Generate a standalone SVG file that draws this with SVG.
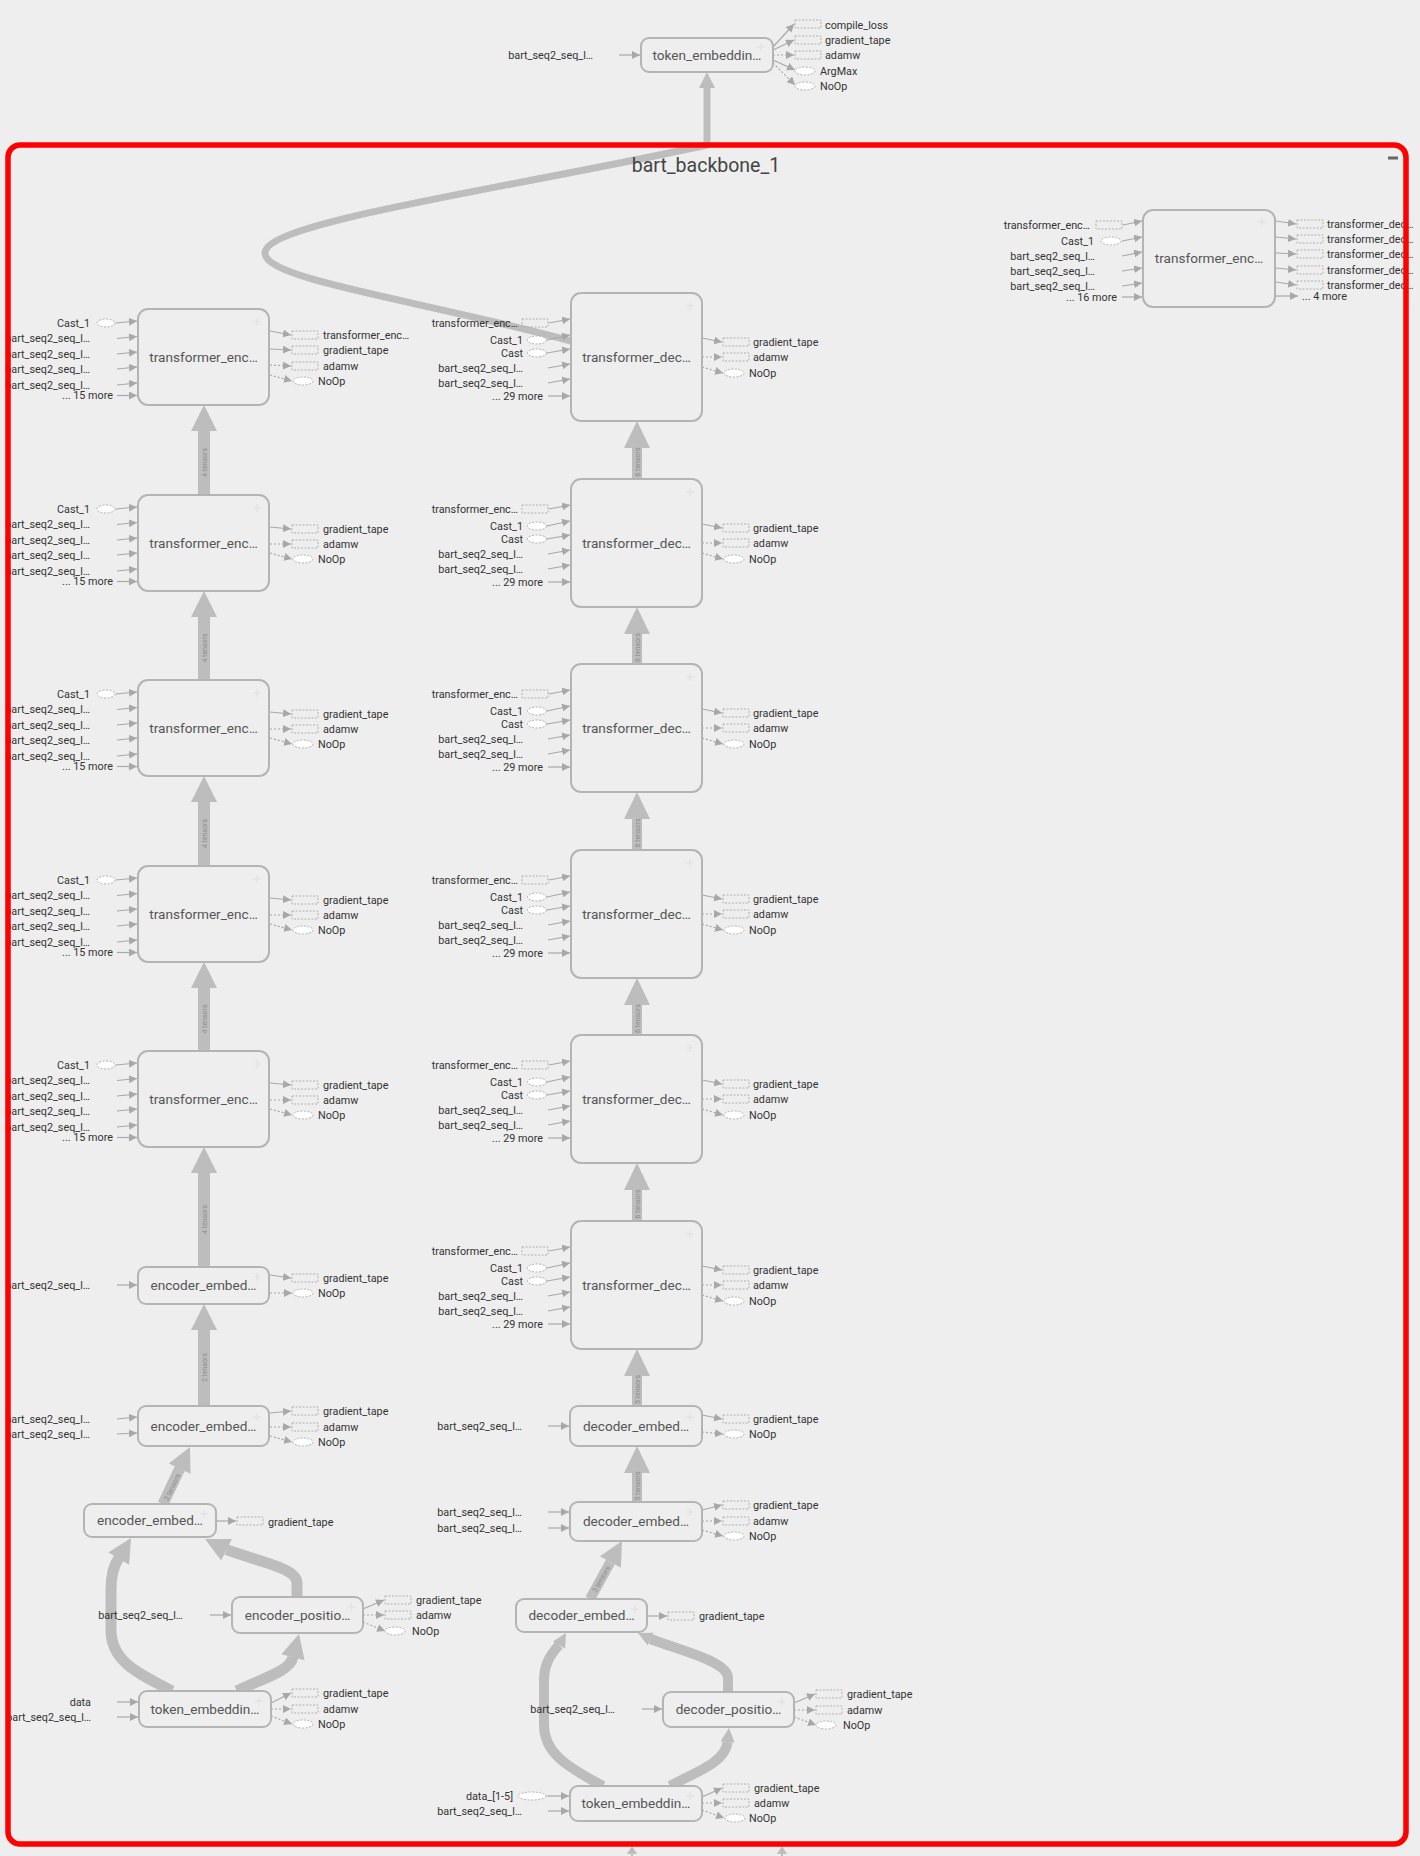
<svg xmlns="http://www.w3.org/2000/svg" width="1420" height="1856" viewBox="0 0 1420 1856">
<defs>
<style>
.t{font-family:Roboto,"Liberation Sans",sans-serif;font-size:10.8px;fill:#333}
.te{text-anchor:end}
.bx{fill:#eeeeee;stroke:#b4b4b4;stroke-width:2}
.nl{font-family:Roboto,"Liberation Sans",sans-serif;font-size:13.6px;fill:#555;text-anchor:middle}
.s{fill:none;stroke:#b0b0b0;stroke-width:1;stroke-dasharray:2 1.5}
.o{fill:#fff;stroke:#b0b0b0;stroke-width:1;stroke-dasharray:2 1.5}
.e{fill:none;stroke:#a8a8a8;stroke-width:1.2;marker-end:url(#a)}
.c{fill:none;stroke:#a8a8a8;stroke-width:1.2;stroke-dasharray:2 2;marker-end:url(#a)}
.k{fill:#bdbdbd}
.kp{fill:none;stroke:#bdbdbd;stroke-linejoin:round}
.tl{font-family:Roboto,"Liberation Sans",sans-serif;font-size:7px;fill:#8c8c8c;text-anchor:middle}
.pl{stroke:#e2e2e2;stroke-width:1.2}
</style>
<marker id="a" viewBox="0 0 10 10" refX="10" refY="5" markerWidth="8" markerHeight="8" markerUnits="userSpaceOnUse" orient="auto"><path d="M0,0 L10,5 L0,10 z" fill="#a8a8a8"/></marker>
<g id="plus"><line class="pl" x1="-4" y1="0" x2="4" y2="0"/><line class="pl" x1="0" y1="-4" x2="0" y2="4"/></g>
</defs>
<rect width="1420" height="1856" fill="#eeeeee"/>

<g id="connectors">
<path class="kp" stroke-width="7" d="M707,86 L707,145 C500,190 265,222 265,253 C265,280 420,300 571,341"/>
<polygon class="k" points="707,72 699,88 715,88"/>
<polygon class="k" points="204,405 191,431 217,431"/><rect class="k" x="198" y="430" width="12" height="65"/>
<text class="tl" transform="rotate(-90 204 462.5)" x="204" y="465">4 tensors</text>
<polygon class="k" points="204,591 191,617 217,617"/><rect class="k" x="198" y="616" width="12" height="64"/>
<text class="tl" transform="rotate(-90 204 648)" x="204" y="650.5">4 tensors</text>
<polygon class="k" points="204,776 191,802 217,802"/><rect class="k" x="198" y="801" width="12" height="65"/>
<text class="tl" transform="rotate(-90 204 833.5)" x="204" y="836">4 tensors</text>
<polygon class="k" points="204,962 191,988 217,988"/><rect class="k" x="198" y="987" width="12" height="64"/>
<text class="tl" transform="rotate(-90 204 1019)" x="204" y="1021.5">4 tensors</text>
<polygon class="k" points="204,1147 191,1173 217,1173"/><rect class="k" x="198" y="1172" width="12" height="95"/>
<text class="tl" transform="rotate(-90 204 1219.5)" x="204" y="1222">4 tensors</text>
<polygon class="k" points="204,1304 191,1330 217,1330"/><rect class="k" x="198" y="1329" width="12" height="77"/>
<text class="tl" transform="rotate(-90 204 1367.5)" x="204" y="1370">2 tensors</text>
<line class="kp" stroke-width="11" x1="163" y1="1504" x2="179.7" y2="1468.7"/>
<polygon class="k" points="190,1447 190.5,1473.8 168.9,1463.6"/>
<text class="tl" transform="rotate(-64.7 172 1487)" x="172" y="1489.5">3 tensors</text>
<path class="kp" stroke-width="11" d="M172,1691 C135,1672 111,1660 111,1630 L111,1590 C111,1575 113,1566 119,1558"/>
<polygon class="k" points="131,1538 129.2,1564.8 108.4,1552.6"/>
<path class="kp" stroke-width="11" d="M237,1691 C260,1679 290,1672 293,1657"/>
<polygon class="k" points="299,1634 304.6,1660.3 281.4,1654.3"/>
<path class="kp" stroke-width="11" d="M297,1597 L297,1583 C297,1568 260,1562 226.5,1549.7"/>
<polygon class="k" points="205,1539 231.9,1539 221.1,1560.4"/>
<polygon class="k" points="637,421 624,448 650,448"/><rect class="k" x="632" y="447" width="10" height="32"/>
<text class="tl" transform="rotate(-90 637 462)" x="637" y="464.5">6 tensors</text>
<polygon class="k" points="637,607 624,634 650,634"/><rect class="k" x="632" y="633" width="10" height="31"/>
<text class="tl" transform="rotate(-90 637 647.5)" x="637" y="650">6 tensors</text>
<polygon class="k" points="637,792 624,819 650,819"/><rect class="k" x="632" y="818" width="10" height="32"/>
<text class="tl" transform="rotate(-90 637 833)" x="637" y="835.5">6 tensors</text>
<polygon class="k" points="637,978 624,1005 650,1005"/><rect class="k" x="632" y="1004" width="10" height="31"/>
<text class="tl" transform="rotate(-90 637 1018.5)" x="637" y="1021">6 tensors</text>
<polygon class="k" points="637,1163 624,1190 650,1190"/><rect class="k" x="632" y="1189" width="10" height="32"/>
<text class="tl" transform="rotate(-90 637 1204)" x="637" y="1206.5">6 tensors</text>
<polygon class="k" points="637,1349 624,1376 650,1376"/><rect class="k" x="632" y="1375" width="10" height="31"/>
<text class="tl" transform="rotate(-90 637 1389.5)" x="637" y="1392">5 tensors</text>
<polygon class="k" points="637,1446 624,1473 650,1473"/><rect class="k" x="632" y="1472" width="10" height="30"/>
<text class="tl" transform="rotate(-90 637 1486)" x="637" y="1488.5">5 tensors</text>
<line class="kp" stroke-width="10" x1="590" y1="1599" x2="610.4" y2="1562"/>
<polygon class="k" points="622,1541 620.9,1567.8 599.9,1556.2"/>
<text class="tl" transform="rotate(-61.1 601 1579)" x="601" y="1581.5">3 tensors</text>
<path class="kp" stroke-width="10" d="M603,1786 C565,1766 544,1752 544,1725 L544,1680 C544,1665 550,1655 559,1645"/>
<polygon class="k" points="566,1633 565.1,1648.6 552.9,1641.6"/>
<path class="kp" stroke-width="10" d="M670,1786 C700,1770 725,1762 727.6,1742"/>
<polygon class="k" points="729,1728 734.6,1742.7 720.6,1741.3"/>
<path class="kp" stroke-width="10" d="M728,1692 L728,1678 C728,1662 685,1652 650.6,1639"/>
<polygon class="k" points="638,1633 653.6,1632.7 647.6,1645.3"/>
<line x1="632" y1="1856" x2="632" y2="1851" stroke="#bdbdbd" stroke-width="2"/><polygon class="k" points="632,1846 627,1854 637,1854"/>
<line x1="782" y1="1856" x2="782" y2="1851" stroke="#bdbdbd" stroke-width="2"/><polygon class="k" points="782,1846 777,1854 787,1854"/>

<line class="e" x1="619" y1="55" x2="640" y2="55"/>
<line class="e" x1="773" y1="47" x2="794" y2="24"/>
<line class="e" x1="773" y1="50" x2="794" y2="40"/>
<line class="c" x1="773" y1="55" x2="794" y2="55"/>
<line class="e" x1="773" y1="60" x2="795" y2="70"/>
<line class="c" x1="773" y1="63" x2="795" y2="85"/>
<line class="e" x1="1123" y1="225" x2="1142" y2="221"/>
<line class="e" x1="1122" y1="241" x2="1142" y2="237"/>
<line class="e" x1="1122" y1="256" x2="1142" y2="252"/>
<line class="e" x1="1122" y1="271" x2="1142" y2="268"/>
<line class="e" x1="1122" y1="286" x2="1142" y2="283"/>
<line class="e" x1="1122" y1="297" x2="1142" y2="297"/>
<line class="e" x1="1276" y1="221" x2="1296" y2="224"/>
<line class="e" x1="1276" y1="237" x2="1296" y2="239"/>
<line class="e" x1="1276" y1="253" x2="1296" y2="254"/>
<line class="e" x1="1276" y1="268" x2="1296" y2="270"/>
<line class="e" x1="1276" y1="282" x2="1296" y2="285"/>
<line class="e" x1="1276" y1="296" x2="1298" y2="296"/>

<line class="e" x1="115.5" y1="323" x2="137" y2="321"/>
<line class="e" x1="117" y1="338.5" x2="137" y2="336.5"/>
<line class="e" x1="117" y1="354" x2="137" y2="352"/>
<line class="e" x1="117" y1="369" x2="137" y2="367"/>
<line class="e" x1="117" y1="385" x2="137" y2="383"/>
<line class="e" x1="117" y1="395.5" x2="137" y2="395.5"/>
<line class="e" x1="270" y1="331" x2="291" y2="335"/>
<line class="e" x1="270" y1="349" x2="291" y2="350"/>
<line class="c" x1="270" y1="365" x2="291" y2="366"/>
<line class="c" x1="270" y1="375" x2="292" y2="381"/>
<line class="e" x1="115.5" y1="509" x2="137" y2="507"/>
<line class="e" x1="117" y1="524.5" x2="137" y2="522.5"/>
<line class="e" x1="117" y1="540" x2="137" y2="538"/>
<line class="e" x1="117" y1="555" x2="137" y2="553"/>
<line class="e" x1="117" y1="571" x2="137" y2="569"/>
<line class="e" x1="117" y1="581.5" x2="137" y2="581.5"/>
<line class="e" x1="270" y1="527" x2="291" y2="529"/>
<line class="c" x1="270" y1="544" x2="291" y2="544"/>
<line class="c" x1="270" y1="553" x2="292" y2="559"/>
<line class="e" x1="115.5" y1="694" x2="137" y2="692"/>
<line class="e" x1="117" y1="709.5" x2="137" y2="707.5"/>
<line class="e" x1="117" y1="725" x2="137" y2="723"/>
<line class="e" x1="117" y1="740" x2="137" y2="738"/>
<line class="e" x1="117" y1="756" x2="137" y2="754"/>
<line class="e" x1="117" y1="766.5" x2="137" y2="766.5"/>
<line class="e" x1="270" y1="712" x2="291" y2="714"/>
<line class="c" x1="270" y1="729" x2="291" y2="729"/>
<line class="c" x1="270" y1="738" x2="292" y2="744"/>
<line class="e" x1="115.5" y1="880" x2="137" y2="878"/>
<line class="e" x1="117" y1="895.5" x2="137" y2="893.5"/>
<line class="e" x1="117" y1="911" x2="137" y2="909"/>
<line class="e" x1="117" y1="926" x2="137" y2="924"/>
<line class="e" x1="117" y1="942" x2="137" y2="940"/>
<line class="e" x1="117" y1="952.5" x2="137" y2="952.5"/>
<line class="e" x1="270" y1="898" x2="291" y2="900"/>
<line class="c" x1="270" y1="915" x2="291" y2="915"/>
<line class="c" x1="270" y1="924" x2="292" y2="930"/>
<line class="e" x1="115.5" y1="1065" x2="137" y2="1063"/>
<line class="e" x1="117" y1="1080.5" x2="137" y2="1078.5"/>
<line class="e" x1="117" y1="1096" x2="137" y2="1094"/>
<line class="e" x1="117" y1="1111" x2="137" y2="1109"/>
<line class="e" x1="117" y1="1127" x2="137" y2="1125"/>
<line class="e" x1="117" y1="1137.5" x2="137" y2="1137.5"/>
<line class="e" x1="270" y1="1083" x2="291" y2="1085"/>
<line class="c" x1="270" y1="1100" x2="291" y2="1100"/>
<line class="c" x1="270" y1="1109" x2="292" y2="1115"/>
<line class="e" x1="117" y1="1285" x2="137" y2="1285"/>
<line class="e" x1="270" y1="1275" x2="291" y2="1278"/>
<line class="c" x1="270" y1="1293" x2="292" y2="1293"/>
<line class="e" x1="117" y1="1419" x2="137" y2="1417"/>
<line class="e" x1="117" y1="1434" x2="137" y2="1433"/>
<line class="e" x1="270" y1="1413" x2="291" y2="1411"/>
<line class="c" x1="270" y1="1427" x2="291" y2="1427"/>
<line class="c" x1="270" y1="1436" x2="292" y2="1442"/>
<line class="e" x1="216" y1="1521" x2="236" y2="1521"/>
<line class="e" x1="210" y1="1615" x2="231" y2="1615"/>
<line class="e" x1="363" y1="1609" x2="384" y2="1600"/>
<line class="c" x1="363" y1="1615" x2="384" y2="1615"/>
<line class="c" x1="363" y1="1622" x2="385" y2="1631"/>
<line class="e" x1="117" y1="1702" x2="138" y2="1702"/>
<line class="e" x1="117" y1="1717" x2="138" y2="1717"/>
<line class="e" x1="271" y1="1703" x2="291" y2="1693"/>
<line class="c" x1="271" y1="1709" x2="291" y2="1709"/>
<line class="c" x1="271" y1="1716" x2="292" y2="1724"/>

<line class="e" x1="549" y1="323" x2="570" y2="319"/>
<line class="e" x1="547" y1="340" x2="570" y2="335"/>
<line class="e" x1="547" y1="353" x2="570" y2="349"/>
<line class="e" x1="548" y1="368" x2="570" y2="364"/>
<line class="e" x1="548" y1="383" x2="570" y2="379"/>
<line class="e" x1="548" y1="396" x2="570" y2="396"/>
<line class="e" x1="702" y1="338" x2="722" y2="342"/>
<line class="c" x1="702" y1="357" x2="722" y2="357"/>
<line class="c" x1="702" y1="367" x2="723" y2="373"/>
<line class="e" x1="549" y1="509" x2="570" y2="505"/>
<line class="e" x1="547" y1="526" x2="570" y2="521"/>
<line class="e" x1="547" y1="539" x2="570" y2="535"/>
<line class="e" x1="548" y1="554" x2="570" y2="550"/>
<line class="e" x1="548" y1="569" x2="570" y2="565"/>
<line class="e" x1="548" y1="582" x2="570" y2="582"/>
<line class="e" x1="702" y1="524" x2="722" y2="528"/>
<line class="c" x1="702" y1="543" x2="722" y2="543"/>
<line class="c" x1="702" y1="553" x2="723" y2="559"/>
<line class="e" x1="549" y1="694" x2="570" y2="690"/>
<line class="e" x1="547" y1="711" x2="570" y2="706"/>
<line class="e" x1="547" y1="724" x2="570" y2="720"/>
<line class="e" x1="548" y1="739" x2="570" y2="735"/>
<line class="e" x1="548" y1="754" x2="570" y2="750"/>
<line class="e" x1="548" y1="767" x2="570" y2="767"/>
<line class="e" x1="702" y1="709" x2="722" y2="713"/>
<line class="c" x1="702" y1="728" x2="722" y2="728"/>
<line class="c" x1="702" y1="738" x2="723" y2="744"/>
<line class="e" x1="549" y1="880" x2="570" y2="876"/>
<line class="e" x1="547" y1="897" x2="570" y2="892"/>
<line class="e" x1="547" y1="910" x2="570" y2="906"/>
<line class="e" x1="548" y1="925" x2="570" y2="921"/>
<line class="e" x1="548" y1="940" x2="570" y2="936"/>
<line class="e" x1="548" y1="953" x2="570" y2="953"/>
<line class="e" x1="702" y1="895" x2="722" y2="899"/>
<line class="c" x1="702" y1="914" x2="722" y2="914"/>
<line class="c" x1="702" y1="924" x2="723" y2="930"/>
<line class="e" x1="549" y1="1065" x2="570" y2="1061"/>
<line class="e" x1="547" y1="1082" x2="570" y2="1077"/>
<line class="e" x1="547" y1="1095" x2="570" y2="1091"/>
<line class="e" x1="548" y1="1110" x2="570" y2="1106"/>
<line class="e" x1="548" y1="1125" x2="570" y2="1121"/>
<line class="e" x1="548" y1="1138" x2="570" y2="1138"/>
<line class="e" x1="702" y1="1080" x2="722" y2="1084"/>
<line class="c" x1="702" y1="1099" x2="722" y2="1099"/>
<line class="c" x1="702" y1="1109" x2="723" y2="1115"/>
<line class="e" x1="549" y1="1251" x2="570" y2="1247"/>
<line class="e" x1="547" y1="1268" x2="570" y2="1263"/>
<line class="e" x1="547" y1="1281" x2="570" y2="1277"/>
<line class="e" x1="548" y1="1296" x2="570" y2="1292"/>
<line class="e" x1="548" y1="1311" x2="570" y2="1307"/>
<line class="e" x1="548" y1="1324" x2="570" y2="1324"/>
<line class="e" x1="702" y1="1266" x2="722" y2="1270"/>
<line class="c" x1="702" y1="1285" x2="722" y2="1285"/>
<line class="c" x1="702" y1="1295" x2="723" y2="1301"/>
<line class="e" x1="548" y1="1426" x2="569" y2="1426"/>
<line class="e" x1="702" y1="1415" x2="722" y2="1419"/>
<line class="c" x1="702" y1="1432" x2="723" y2="1434"/>
<line class="e" x1="548" y1="1512" x2="569" y2="1512"/>
<line class="e" x1="548" y1="1528" x2="569" y2="1528"/>
<line class="e" x1="702" y1="1510" x2="722" y2="1505"/>
<line class="c" x1="702" y1="1521" x2="722" y2="1521"/>
<line class="c" x1="702" y1="1530" x2="723" y2="1536"/>
<line class="e" x1="647" y1="1616" x2="667" y2="1616"/>
<line class="e" x1="642" y1="1709" x2="662" y2="1709"/>
<line class="e" x1="794" y1="1703" x2="815" y2="1694"/>
<line class="c" x1="794" y1="1710" x2="815" y2="1710"/>
<line class="c" x1="794" y1="1717" x2="816" y2="1725"/>
<line class="e" x1="547" y1="1796" x2="569" y2="1796"/>
<line class="e" x1="548" y1="1811" x2="569" y2="1811"/>
<line class="e" x1="702" y1="1797" x2="722" y2="1788"/>
<line class="c" x1="702" y1="1803" x2="722" y2="1803"/>
<line class="c" x1="702" y1="1810" x2="724" y2="1818"/>
</g>

<g id="token_embeddin_top">
<rect class="bx" x="641" y="38" width="132" height="34" rx="8"/>
<text class="nl" x="707" y="59.5">token_embeddin…</text>
<use href="#plus" x="761" y="47"/>
<text class="t te" x="593" y="58.5">bart_seq2_seq_l…</text>
<rect class="s" x="795" y="20" width="26" height="8"/><text class="t" x="825" y="28.5">compile_loss</text>
<rect class="s" x="795" y="36" width="26" height="8"/><text class="t" x="825" y="43.5">gradient_tape</text>
<rect class="s" x="795" y="51" width="26" height="8"/><text class="t" x="825" y="58.5">adamw</text>
<ellipse class="o" cx="805" cy="71" rx="10" ry="4"/><text class="t" x="820" y="74.5">ArgMax</text>
<ellipse class="o" cx="805" cy="86" rx="10" ry="4"/><text class="t" x="820" y="89.5">NoOp</text>
</g>

<g id="transformer_enc_right">
<rect class="bx" x="1143" y="210" width="132" height="97" rx="10"/>
<text class="nl" x="1209" y="263">transformer_enc…</text>
<use href="#plus" x="1262" y="222"/>
<text class="t te" x="1090" y="228.5">transformer_enc…</text><rect class="s" x="1096" y="221" width="26" height="8"/>
<text class="t te" x="1094" y="244.5">Cast_1</text><ellipse class="o" cx="1111" cy="241" rx="10" ry="4"/>
<text class="t te" x="1095" y="259.5">bart_seq2_seq_l…</text>
<text class="t te" x="1095" y="274.5">bart_seq2_seq_l…</text>
<text class="t te" x="1095" y="289.5">bart_seq2_seq_l…</text>
<text class="t te" x="1117" y="300.5">... 16 more</text>
<rect class="s" x="1297" y="220" width="26" height="8"/><text class="t" x="1327" y="227.5">transformer_dec…</text>
<rect class="s" x="1297" y="235" width="26" height="8"/><text class="t" x="1327" y="242.5">transformer_dec…</text>
<rect class="s" x="1297" y="250" width="26" height="8"/><text class="t" x="1327" y="257.5">transformer_dec…</text>
<rect class="s" x="1297" y="266" width="26" height="8"/><text class="t" x="1327" y="273.5">transformer_dec…</text>
<rect class="s" x="1297" y="281" width="26" height="8"/><text class="t" x="1327" y="288.5">transformer_dec…</text>
<text class="t" x="1302" y="299.5">... 4 more</text>
</g>

<g id="transformer_enc_0">
<rect class="bx" x="138" y="309" width="131" height="96" rx="10"/>
<text class="nl" x="203.5" y="361.5">transformer_enc…</text><use href="#plus" x="257" y="322"/>
<text class="t te" x="90" y="326.5">Cast_1</text><ellipse class="o" cx="106" cy="323" rx="9" ry="4"/>
<text class="t te" x="90" y="342">bart_seq2_seq_l…</text>
<text class="t te" x="90" y="357.5">bart_seq2_seq_l…</text>
<text class="t te" x="90" y="372.5">bart_seq2_seq_l…</text>
<text class="t te" x="90" y="388.5">bart_seq2_seq_l…</text>
<text class="t te" x="113" y="399">... 15 more</text>
<rect class="s" x="292" y="331" width="26" height="8"/><text class="t" x="323" y="338.5">transformer_enc…</text>
<rect class="s" x="292" y="346" width="26" height="8"/><text class="t" x="323" y="353.5">gradient_tape</text>
<rect class="s" x="292" y="362" width="26" height="8"/><text class="t" x="323" y="369.5">adamw</text>
<ellipse class="o" cx="303" cy="381" rx="10" ry="4"/><text class="t" x="318" y="384.5">NoOp</text>
</g>
<g id="transformer_enc_1">
<rect class="bx" x="138" y="495" width="131" height="96" rx="10"/>
<text class="nl" x="203.5" y="547.5">transformer_enc…</text><use href="#plus" x="257" y="508"/>
<text class="t te" x="90" y="512.5">Cast_1</text><ellipse class="o" cx="106" cy="509" rx="9" ry="4"/>
<text class="t te" x="90" y="528">bart_seq2_seq_l…</text>
<text class="t te" x="90" y="543.5">bart_seq2_seq_l…</text>
<text class="t te" x="90" y="558.5">bart_seq2_seq_l…</text>
<text class="t te" x="90" y="574.5">bart_seq2_seq_l…</text>
<text class="t te" x="113" y="585">... 15 more</text>
<rect class="s" x="292" y="525" width="26" height="8"/><text class="t" x="323" y="532.5">gradient_tape</text>
<rect class="s" x="292" y="540" width="26" height="8"/><text class="t" x="323" y="547.5">adamw</text>
<ellipse class="o" cx="303" cy="559" rx="10" ry="4"/><text class="t" x="318" y="562.5">NoOp</text>
</g>
<g id="transformer_enc_2">
<rect class="bx" x="138" y="680" width="131" height="96" rx="10"/>
<text class="nl" x="203.5" y="732.5">transformer_enc…</text><use href="#plus" x="257" y="693"/>
<text class="t te" x="90" y="697.5">Cast_1</text><ellipse class="o" cx="106" cy="694" rx="9" ry="4"/>
<text class="t te" x="90" y="713">bart_seq2_seq_l…</text>
<text class="t te" x="90" y="728.5">bart_seq2_seq_l…</text>
<text class="t te" x="90" y="743.5">bart_seq2_seq_l…</text>
<text class="t te" x="90" y="759.5">bart_seq2_seq_l…</text>
<text class="t te" x="113" y="770">... 15 more</text>
<rect class="s" x="292" y="710" width="26" height="8"/><text class="t" x="323" y="717.5">gradient_tape</text>
<rect class="s" x="292" y="725" width="26" height="8"/><text class="t" x="323" y="732.5">adamw</text>
<ellipse class="o" cx="303" cy="744" rx="10" ry="4"/><text class="t" x="318" y="747.5">NoOp</text>
</g>
<g id="transformer_enc_3">
<rect class="bx" x="138" y="866" width="131" height="96" rx="10"/>
<text class="nl" x="203.5" y="918.5">transformer_enc…</text><use href="#plus" x="257" y="879"/>
<text class="t te" x="90" y="883.5">Cast_1</text><ellipse class="o" cx="106" cy="880" rx="9" ry="4"/>
<text class="t te" x="90" y="899">bart_seq2_seq_l…</text>
<text class="t te" x="90" y="914.5">bart_seq2_seq_l…</text>
<text class="t te" x="90" y="929.5">bart_seq2_seq_l…</text>
<text class="t te" x="90" y="945.5">bart_seq2_seq_l…</text>
<text class="t te" x="113" y="956">... 15 more</text>
<rect class="s" x="292" y="896" width="26" height="8"/><text class="t" x="323" y="903.5">gradient_tape</text>
<rect class="s" x="292" y="911" width="26" height="8"/><text class="t" x="323" y="918.5">adamw</text>
<ellipse class="o" cx="303" cy="930" rx="10" ry="4"/><text class="t" x="318" y="933.5">NoOp</text>
</g>
<g id="transformer_enc_4">
<rect class="bx" x="138" y="1051" width="131" height="96" rx="10"/>
<text class="nl" x="203.5" y="1103.5">transformer_enc…</text><use href="#plus" x="257" y="1064"/>
<text class="t te" x="90" y="1068.5">Cast_1</text><ellipse class="o" cx="106" cy="1065" rx="9" ry="4"/>
<text class="t te" x="90" y="1084">bart_seq2_seq_l…</text>
<text class="t te" x="90" y="1099.5">bart_seq2_seq_l…</text>
<text class="t te" x="90" y="1114.5">bart_seq2_seq_l…</text>
<text class="t te" x="90" y="1130.5">bart_seq2_seq_l…</text>
<text class="t te" x="113" y="1141">... 15 more</text>
<rect class="s" x="292" y="1081" width="26" height="8"/><text class="t" x="323" y="1088.5">gradient_tape</text>
<rect class="s" x="292" y="1096" width="26" height="8"/><text class="t" x="323" y="1103.5">adamw</text>
<ellipse class="o" cx="303" cy="1115" rx="10" ry="4"/><text class="t" x="318" y="1118.5">NoOp</text>
</g>
<g id="encoder_embed_a">
<rect class="bx" x="138" y="1267" width="131" height="37" rx="8"/>
<text class="nl" x="203.5" y="1290">encoder_embed…</text><use href="#plus" x="257" y="1277"/>
<text class="t te" x="90" y="1288.5">bart_seq2_seq_l…</text>
<rect class="s" x="292" y="1274" width="26" height="8"/><text class="t" x="323" y="1281.5">gradient_tape</text>
<ellipse class="o" cx="303" cy="1293" rx="10" ry="4"/><text class="t" x="318" y="1296.5">NoOp</text>
</g>
<g id="encoder_embed_b">
<rect class="bx" x="138" y="1406" width="131" height="40" rx="8"/>
<text class="nl" x="203.5" y="1430.5">encoder_embed…</text><use href="#plus" x="257" y="1417"/>
<text class="t te" x="90" y="1422.5">bart_seq2_seq_l…</text>
<text class="t te" x="90" y="1437.5">bart_seq2_seq_l…</text>
<rect class="s" x="292" y="1407" width="26" height="8"/><text class="t" x="323" y="1414.5">gradient_tape</text>
<rect class="s" x="292" y="1423" width="26" height="8"/><text class="t" x="323" y="1430.5">adamw</text>
<ellipse class="o" cx="303" cy="1442" rx="10" ry="4"/><text class="t" x="318" y="1445.5">NoOp</text>
</g>
<g id="encoder_embed_c">
<rect class="bx" x="84" y="1504" width="132" height="33" rx="8"/>
<text class="nl" x="150" y="1525">encoder_embed…</text><use href="#plus" x="204" y="1514"/>
<rect class="s" x="237" y="1517" width="26" height="8"/><text class="t" x="268" y="1525.5">gradient_tape</text>
</g>
<g id="encoder_position">
<rect class="bx" x="232" y="1597" width="131" height="36" rx="8"/>
<text class="nl" x="297.5" y="1619.5">encoder_positio…</text><use href="#plus" x="351" y="1607"/>
<text class="t te" x="183" y="1618.5">bart_seq2_seq_l…</text>
<rect class="s" x="385" y="1596" width="26" height="8"/><text class="t" x="416" y="1603.5">gradient_tape</text>
<rect class="s" x="385" y="1611" width="26" height="8"/><text class="t" x="416" y="1618.5">adamw</text>
<ellipse class="o" cx="395" cy="1631" rx="10" ry="4"/><text class="t" x="412" y="1634.5">NoOp</text>
</g>
<g id="token_embeddin_enc">
<rect class="bx" x="139" y="1691" width="132" height="36" rx="8"/>
<text class="nl" x="205" y="1713.5">token_embeddin…</text><use href="#plus" x="259" y="1701"/>
<text class="t te" x="91" y="1705.5">data</text>
<text class="t te" x="91" y="1720.5">bart_seq2_seq_l…</text>
<rect class="s" x="292" y="1689" width="26" height="8"/><text class="t" x="323" y="1696.5">gradient_tape</text>
<rect class="s" x="292" y="1705" width="26" height="8"/><text class="t" x="323" y="1712.5">adamw</text>
<ellipse class="o" cx="303" cy="1724" rx="10" ry="4"/><text class="t" x="318" y="1727.5">NoOp</text>
</g>

<g id="transformer_dec_0">
<rect class="bx" x="571" y="293" width="131" height="128" rx="10"/>
<text class="nl" x="636.5" y="361.5">transformer_dec…</text><use href="#plus" x="690" y="306"/>
<text class="t te" x="518" y="326.5">transformer_enc…</text><rect class="s" x="522" y="319" width="26" height="8"/>
<text class="t te" x="523" y="343.5">Cast_1</text><ellipse class="o" cx="537" cy="340" rx="9.5" ry="4"/>
<text class="t te" x="523" y="356.5">Cast</text><ellipse class="o" cx="537" cy="353" rx="9.5" ry="4"/>
<text class="t te" x="523" y="371.5">bart_seq2_seq_l…</text>
<text class="t te" x="523" y="386.5">bart_seq2_seq_l…</text>
<text class="t te" x="543" y="399.5">... 29 more</text>
<rect class="s" x="723" y="338" width="26" height="8"/><text class="t" x="753" y="345.5">gradient_tape</text>
<rect class="s" x="723" y="353" width="26" height="8"/><text class="t" x="753" y="360.5">adamw</text>
<ellipse class="o" cx="734" cy="373" rx="10" ry="4"/><text class="t" x="749" y="376.5">NoOp</text>
</g>
<g id="transformer_dec_1">
<rect class="bx" x="571" y="479" width="131" height="128" rx="10"/>
<text class="nl" x="636.5" y="547.5">transformer_dec…</text><use href="#plus" x="690" y="492"/>
<text class="t te" x="518" y="512.5">transformer_enc…</text><rect class="s" x="522" y="505" width="26" height="8"/>
<text class="t te" x="523" y="529.5">Cast_1</text><ellipse class="o" cx="537" cy="526" rx="9.5" ry="4"/>
<text class="t te" x="523" y="542.5">Cast</text><ellipse class="o" cx="537" cy="539" rx="9.5" ry="4"/>
<text class="t te" x="523" y="557.5">bart_seq2_seq_l…</text>
<text class="t te" x="523" y="572.5">bart_seq2_seq_l…</text>
<text class="t te" x="543" y="585.5">... 29 more</text>
<rect class="s" x="723" y="524" width="26" height="8"/><text class="t" x="753" y="531.5">gradient_tape</text>
<rect class="s" x="723" y="539" width="26" height="8"/><text class="t" x="753" y="546.5">adamw</text>
<ellipse class="o" cx="734" cy="559" rx="10" ry="4"/><text class="t" x="749" y="562.5">NoOp</text>
</g>
<g id="transformer_dec_2">
<rect class="bx" x="571" y="664" width="131" height="128" rx="10"/>
<text class="nl" x="636.5" y="732.5">transformer_dec…</text><use href="#plus" x="690" y="677"/>
<text class="t te" x="518" y="697.5">transformer_enc…</text><rect class="s" x="522" y="690" width="26" height="8"/>
<text class="t te" x="523" y="714.5">Cast_1</text><ellipse class="o" cx="537" cy="711" rx="9.5" ry="4"/>
<text class="t te" x="523" y="727.5">Cast</text><ellipse class="o" cx="537" cy="724" rx="9.5" ry="4"/>
<text class="t te" x="523" y="742.5">bart_seq2_seq_l…</text>
<text class="t te" x="523" y="757.5">bart_seq2_seq_l…</text>
<text class="t te" x="543" y="770.5">... 29 more</text>
<rect class="s" x="723" y="709" width="26" height="8"/><text class="t" x="753" y="716.5">gradient_tape</text>
<rect class="s" x="723" y="724" width="26" height="8"/><text class="t" x="753" y="731.5">adamw</text>
<ellipse class="o" cx="734" cy="744" rx="10" ry="4"/><text class="t" x="749" y="747.5">NoOp</text>
</g>
<g id="transformer_dec_3">
<rect class="bx" x="571" y="850" width="131" height="128" rx="10"/>
<text class="nl" x="636.5" y="918.5">transformer_dec…</text><use href="#plus" x="690" y="863"/>
<text class="t te" x="518" y="883.5">transformer_enc…</text><rect class="s" x="522" y="876" width="26" height="8"/>
<text class="t te" x="523" y="900.5">Cast_1</text><ellipse class="o" cx="537" cy="897" rx="9.5" ry="4"/>
<text class="t te" x="523" y="913.5">Cast</text><ellipse class="o" cx="537" cy="910" rx="9.5" ry="4"/>
<text class="t te" x="523" y="928.5">bart_seq2_seq_l…</text>
<text class="t te" x="523" y="943.5">bart_seq2_seq_l…</text>
<text class="t te" x="543" y="956.5">... 29 more</text>
<rect class="s" x="723" y="895" width="26" height="8"/><text class="t" x="753" y="902.5">gradient_tape</text>
<rect class="s" x="723" y="910" width="26" height="8"/><text class="t" x="753" y="917.5">adamw</text>
<ellipse class="o" cx="734" cy="930" rx="10" ry="4"/><text class="t" x="749" y="933.5">NoOp</text>
</g>
<g id="transformer_dec_4">
<rect class="bx" x="571" y="1035" width="131" height="128" rx="10"/>
<text class="nl" x="636.5" y="1103.5">transformer_dec…</text><use href="#plus" x="690" y="1048"/>
<text class="t te" x="518" y="1068.5">transformer_enc…</text><rect class="s" x="522" y="1061" width="26" height="8"/>
<text class="t te" x="523" y="1085.5">Cast_1</text><ellipse class="o" cx="537" cy="1082" rx="9.5" ry="4"/>
<text class="t te" x="523" y="1098.5">Cast</text><ellipse class="o" cx="537" cy="1095" rx="9.5" ry="4"/>
<text class="t te" x="523" y="1113.5">bart_seq2_seq_l…</text>
<text class="t te" x="523" y="1128.5">bart_seq2_seq_l…</text>
<text class="t te" x="543" y="1141.5">... 29 more</text>
<rect class="s" x="723" y="1080" width="26" height="8"/><text class="t" x="753" y="1087.5">gradient_tape</text>
<rect class="s" x="723" y="1095" width="26" height="8"/><text class="t" x="753" y="1102.5">adamw</text>
<ellipse class="o" cx="734" cy="1115" rx="10" ry="4"/><text class="t" x="749" y="1118.5">NoOp</text>
</g>
<g id="transformer_dec_5">
<rect class="bx" x="571" y="1221" width="131" height="128" rx="10"/>
<text class="nl" x="636.5" y="1289.5">transformer_dec…</text><use href="#plus" x="690" y="1234"/>
<text class="t te" x="518" y="1254.5">transformer_enc…</text><rect class="s" x="522" y="1247" width="26" height="8"/>
<text class="t te" x="523" y="1271.5">Cast_1</text><ellipse class="o" cx="537" cy="1268" rx="9.5" ry="4"/>
<text class="t te" x="523" y="1284.5">Cast</text><ellipse class="o" cx="537" cy="1281" rx="9.5" ry="4"/>
<text class="t te" x="523" y="1299.5">bart_seq2_seq_l…</text>
<text class="t te" x="523" y="1314.5">bart_seq2_seq_l…</text>
<text class="t te" x="543" y="1327.5">... 29 more</text>
<rect class="s" x="723" y="1266" width="26" height="8"/><text class="t" x="753" y="1273.5">gradient_tape</text>
<rect class="s" x="723" y="1281" width="26" height="8"/><text class="t" x="753" y="1288.5">adamw</text>
<ellipse class="o" cx="734" cy="1301" rx="10" ry="4"/><text class="t" x="749" y="1304.5">NoOp</text>
</g>
<g id="decoder_embed_a">
<rect class="bx" x="570" y="1406" width="132" height="40" rx="8"/>
<text class="nl" x="636" y="1430.5">decoder_embed…</text><use href="#plus" x="690" y="1417"/>
<text class="t te" x="522" y="1429.5">bart_seq2_seq_l…</text>
<rect class="s" x="723" y="1415" width="26" height="8"/><text class="t" x="753" y="1422.5">gradient_tape</text>
<ellipse class="o" cx="734" cy="1434" rx="10" ry="4"/><text class="t" x="749" y="1437.5">NoOp</text>
</g>
<g id="decoder_embed_b">
<rect class="bx" x="570" y="1502" width="132" height="39" rx="8"/>
<text class="nl" x="636" y="1525.5">decoder_embed…</text><use href="#plus" x="690" y="1512"/>
<text class="t te" x="522" y="1515.5">bart_seq2_seq_l…</text>
<text class="t te" x="522" y="1531.5">bart_seq2_seq_l…</text>
<rect class="s" x="723" y="1501" width="26" height="8"/><text class="t" x="753" y="1508.5">gradient_tape</text>
<rect class="s" x="723" y="1517" width="26" height="8"/><text class="t" x="753" y="1524.5">adamw</text>
<ellipse class="o" cx="734" cy="1536" rx="10" ry="4"/><text class="t" x="749" y="1539.5">NoOp</text>
</g>
<g id="decoder_embed_c">
<rect class="bx" x="516" y="1599" width="131" height="33" rx="8"/>
<text class="nl" x="581.5" y="1620">decoder_embed…</text><use href="#plus" x="635" y="1609"/>
<rect class="s" x="668" y="1612" width="26" height="8"/><text class="t" x="699" y="1619.5">gradient_tape</text>
</g>
<g id="decoder_position">
<rect class="bx" x="663" y="1692" width="131" height="35" rx="8"/>
<text class="nl" x="728.5" y="1714">decoder_positio…</text><use href="#plus" x="782" y="1702"/>
<text class="t te" x="615" y="1712.5">bart_seq2_seq_l…</text>
<rect class="s" x="816" y="1690" width="26" height="8"/><text class="t" x="847" y="1697.5">gradient_tape</text>
<rect class="s" x="816" y="1706" width="26" height="8"/><text class="t" x="847" y="1713.5">adamw</text>
<ellipse class="o" cx="826" cy="1725" rx="10" ry="4"/><text class="t" x="843" y="1728.5">NoOp</text>
</g>
<g id="token_embeddin_dec">
<rect class="bx" x="570" y="1786" width="132" height="35" rx="8"/>
<text class="nl" x="636" y="1808">token_embeddin…</text><use href="#plus" x="690" y="1796"/>
<text class="t te" x="513" y="1799.5">data_[1-5]</text><ellipse class="o" cx="532" cy="1796" rx="14" ry="4"/>
<text class="t te" x="522" y="1814.5">bart_seq2_seq_l…</text>
<rect class="s" x="723" y="1784" width="26" height="8"/><text class="t" x="754" y="1791.5">gradient_tape</text>
<rect class="s" x="723" y="1799" width="26" height="8"/><text class="t" x="754" y="1806.5">adamw</text>
<ellipse class="o" cx="735" cy="1818" rx="10" ry="4"/><text class="t" x="749" y="1821.5">NoOp</text>
</g>

<g id="bart_backbone_1">
<rect x="8" y="145" width="1398" height="1699" rx="12" fill="none" stroke="#ff0000" stroke-width="5.5"/>
<text x="706" y="172" font-family="Roboto, 'Liberation Sans', sans-serif" font-size="19.5" fill="#444" text-anchor="middle">bart_backbone_1</text>
<rect x="1388" y="156.5" width="10" height="3" fill="#666"/>
</g>
</svg>
